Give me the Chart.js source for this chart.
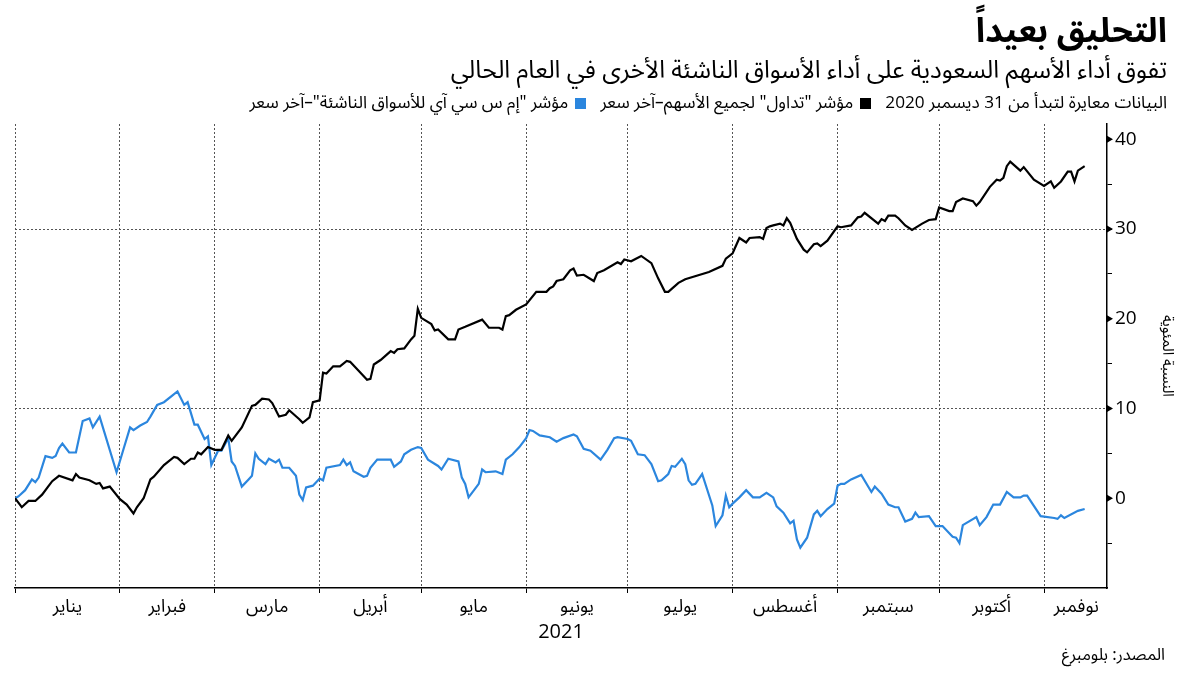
<!DOCTYPE html>
<html lang="ar">
<head>
<meta charset="utf-8">
<script src="https://cdn.jsdelivr.net/npm/chart.js@4"></script>
<style>
  html, body { margin: 0; padding: 0; background: #fff; }
  #wrap { position: relative; width: 1200px; height: 675px; overflow: hidden;
          font-family: "Noto Sans Arabic", "DejaVu Sans", sans-serif; color: #000; }
  #chart { position: absolute; left: 0; top: 0; }
  .txt { position: absolute; right: 33px; direction: rtl; white-space: nowrap; }
  #title { top: 10px; line-height: 42px; font-size: 34px; font-weight: bold; }
  #subtitle { top: 55px; line-height: 30px; font-size: 24.5px; }
  #legend { top: 91px; line-height: 22px; font-size: 17.2px; }
  #legend .sq { display: inline-block; width: 11px; height: 11px; margin: 0 14px 0 7px; vertical-align: -1px; }
  #source { top: 643px; line-height: 24px; font-size: 16.5px; right: 35px; }
  .num { font-family: "Open Sans", "DejaVu Sans", sans-serif; }
</style>
</head>
<body>
<div id="wrap">
  <canvas id="chart" width="1200" height="675"></canvas>
  <div class="txt" id="title">التحليق بعيداً</div>
  <div class="txt" id="subtitle">تفوق أداء الأسهم السعودية على أداء الأسواق الناشئة الأخرى في العام الحالي</div>
  <div class="txt" id="legend"></div>
  <div class="txt" id="source">المصدر: بلومبرغ</div>
</div>
<script>
// days counted from 1 Jan 2021, values in % (rebased to 31 Dec 2020)
const saDays = [0,2,4,6,8,10,11,13,17,18,19,22,24,25,26,28,31,33,35,36,38,40,41,44,47,48,50,52,53,54,55,57,59,61,63,64,67,70,71,73,75,76,78,80,81,84,85,87,88,90,91,92,94,96,98,99,102,104,105,106,108,111,112,113,115,117,118,119,120,123,124,125,128,130,131,133,138,140,143,144,145,146,148,151,154,157,158,159,160,162,164,165,166,168,171,172,174,178,179,180,182,185,188,190,192,193,196,198,205,209,210,212,214,216,217,220,221,222,223,224,226,227,228,229,231,233,234,236,237,238,240,243,244,247,249,250,251,255,256,257,258,260,261,263,265,268,270,272,273,276,277,278,280,283,284,285,288,290,291,292,293,294,297,298,301,304,306,307,309,311,312,313,314,316];
const saValues = [0,-1.0,-0.3,-0.3,0.4,1.4,1.9,2.5,2.0,2.7,2.3,2.0,1.6,1.7,1.1,1.3,-0.1,-0.7,-1.7,-1.0,0.0,2.1,2.4,3.7,4.6,4.5,3.8,4.4,4.4,5.1,4.9,5.7,5.4,5.4,7.0,6.4,7.9,10.3,10.4,11.1,11.0,10.6,9.1,9.3,9.8,8.8,8.4,9.0,10.7,10.9,14.0,13.9,14.7,14.7,15.3,15.2,14.0,13.2,13.3,14.9,15.4,16.4,16.2,16.6,16.7,17.7,18.1,21.1,20.1,19.4,18.7,18.8,17.7,17.7,18.8,19.1,19.9,19.0,19.0,18.8,20.3,20.4,21.0,21.6,23.0,23.0,23.4,23.6,24.2,24.4,25.4,25.6,24.8,24.9,24.2,25.1,25.4,26.3,26.1,26.6,26.4,27.0,26.2,24.5,23.0,23.0,24.0,24.4,25.2,25.9,26.7,27.3,29.0,28.5,29.0,29.1,28.9,30.1,30.3,30.4,30.6,30.4,31.2,30.7,28.9,27.7,27.4,28.3,28.4,28.1,28.7,30.3,30.2,30.4,31.3,31.4,31.8,30.6,31.1,30.9,31.5,31.5,31.2,30.4,29.9,30.6,31.0,31.1,32.4,32.0,32.0,33.0,33.4,33.1,32.6,33.0,34.7,35.5,35.4,35.7,37.0,37.5,36.5,36.9,35.5,34.8,35.3,34.6,35.3,36.4,36.4,35.3,36.5,37.0];

const emDays = [0,1,3,5,6,7,9,11,12,13,14,16,18,20,22,23,25,30,32,34,35,37,39,40,42,44,48,50,51,53,54,56,57,58,60,61,63,64,65,67,69,70,71,72,74,75,77,78,79,81,83,84,85,86,88,90,91,92,96,97,98,99,100,103,104,105,107,111,112,114,115,117,119,120,122,125,126,128,131,132,133,134,136,137,138,139,142,144,145,147,149,151,152,153,155,158,160,162,165,166,168,170,173,175,177,178,181,182,184,186,188,190,191,193,194,195,197,198,199,200,201,203,206,207,209,210,211,212,214,216,218,220,222,224,225,227,229,230,231,232,234,236,237,238,240,242,243,244,245,247,250,253,254,256,258,260,261,263,265,266,267,270,272,274,277,278,279,280,284,285,287,289,291,293,295,297,298,299,303,307,308,309,310,314,316];
const emValues = [0,0.2,0.9,2.1,1.8,2.3,4.7,4.5,4.7,5.6,6.1,5.1,5.1,8.6,8.9,7.9,9.1,2.9,5.4,7.9,7.6,8.1,8.5,9.1,10.4,10.7,11.9,10.4,10.7,8.2,8.2,6.6,6.9,3.7,5.3,5.3,6.7,4.1,3.6,1.3,2.1,2.5,5.0,4.4,3.8,4.4,4.0,4.3,3.4,3.4,2.5,0.4,-0.2,1.2,1.4,2.2,2.0,3.4,3.7,4.3,3.7,4.0,3.0,2.4,2.5,3.4,4.3,4.3,3.5,4.1,4.9,5.4,5.7,5.6,4.3,3.6,3.2,4.4,4.1,2.3,1.6,0.1,1.1,1.6,3.2,2.9,3.0,2.7,4.3,4.9,5.7,6.7,7.6,7.5,7.0,6.8,6.3,6.7,7.1,6.9,5.5,5.3,4.3,5.4,6.7,6.8,6.6,6.4,4.9,4.8,3.8,1.9,2.0,2.7,3.6,3.5,4.4,3.8,2.0,1.5,1.6,2.7,-0.8,-3.1,-1.9,0.3,-1.0,-0.6,0.1,0.9,0.1,0.1,0.6,0.1,-0.9,-1.6,-2.8,-2.5,-4.6,-5.5,-4.4,-1.8,-1.4,-2.0,-1.2,-0.6,1.4,1.6,1.6,2.1,2.6,0.7,1.3,0.5,-0.7,-1.0,-1.0,-2.6,-2.3,-1.6,-2.1,-2.0,-3.1,-3.1,-4.3,-4.4,-5.0,-3.0,-2.1,-3.0,-2.1,-0.7,-0.7,0.7,0.1,0.1,0.3,0.3,-2.0,-2.2,-2.3,-1.9,-2.2,-1.4,-1.2];

const monthStarts = [0,31,59,90,120,151,181,212,243,273,304];
const monthNames = ['يناير','فبراير','مارس','أبريل','مايو','يونيو','يوليو','أغسطس','سبتمبر','أكتوبر','نوفمبر'];
const monthLabelDays = [15.5,45,74.5,105,135.5,166,196.5,227.5,258,288.5,313.5];
const yTicks = [0,10,20,30,40];

const seriesNames = ['مؤشر "تداول" لجميع الأسهم–آخر سعر', 'مؤشر "إم س سي آي للأسواق الناشئة"–آخر سعر'];
const seriesColors = ['#000000', '#2b86de'];

const arFont = '"Noto Sans Arabic", "DejaVu Sans", sans-serif';
const numFont = '"Open Sans", "DejaVu Sans", sans-serif';

// legend
const legend = document.getElementById('legend');
let html = 'البيانات معايرة لتبدأ من <span class="num">31</span> ديسمبر <span class="num">2020</span>';
seriesNames.forEach((name, i) => {
    html += '<span class="sq" style="background:' + seriesColors[i] + '"></span>' + name;
});
legend.innerHTML = html;

const isMonthStart = (v) => monthStarts.indexOf(v) !== -1;

const tickMarkers = {
    id: 'tickMarkers',
    afterDraw(chart) {
        const s = chart.scales.y;
        const ctx = chart.ctx;
        ctx.save();
        ctx.fillStyle = '#000';
        for (const v of yTicks) {
            const py = s.getPixelForValue(v);
            ctx.beginPath();
            ctx.moveTo(s.left, py - 3.5);
            ctx.lineTo(s.left + 6, py);
            ctx.lineTo(s.left, py + 3.5);
            ctx.closePath();
            ctx.fill();
        }
        ctx.restore();
    }
};

new Chart(document.getElementById('chart'), {
    type: 'line',
    data: {
        datasets: [
            {
                label: seriesNames[0],
                data: saDays.map((d, i) => ({x: d, y: saValues[i]})),
                borderColor: seriesColors[0],
                borderWidth: 2.2,
                pointRadius: 0,
                tension: 0
            },
            {
                label: seriesNames[1],
                data: emDays.map((d, i) => ({x: d, y: emValues[i]})),
                borderColor: seriesColors[1],
                borderWidth: 2.2,
                pointRadius: 0,
                tension: 0
            }
        ]
    },
    options: {
        responsive: false,
        animation: false,
        devicePixelRatio: 1,
        layout: { padding: { left: 15, top: 124, right: 0, bottom: 31 } },
        plugins: { legend: { display: false }, tooltip: { enabled: false } },
        scales: {
            x: {
                type: 'linear',
                min: 0,
                max: 322.6,
                afterBuildTicks(scale) {
                    const t = monthStarts.concat(monthLabelDays).sort((a, b) => a - b);
                    scale.ticks = t.map(v => ({value: v}));
                },
                afterFit(scale) { scale.height = 56; },
                ticks: {
                    autoSkip: false,
                    maxRotation: 0,
                    padding: 5,
                    color: '#000',
                    font: { family: arFont, size: 18 },
                    callback(value) {
                        const i = monthLabelDays.indexOf(value);
                        return i === -1 ? '' : monthNames[i];
                    }
                },
                grid: {
                    color: (c) => (c.tick && isMonthStart(c.tick.value)) ? '#555' : 'rgba(0,0,0,0)',
                    tickColor: (c) => (c.tick && isMonthStart(c.tick.value)) ? '#000' : 'rgba(0,0,0,0)',
                    tickLength: 5,
                    lineWidth: 1
                },
                border: { display: true, color: '#000', width: 1.5, dash: [2, 2] },
                title: {
                    display: true,
                    text: '2021',
                    color: '#000',
                    font: { family: numFont, size: 20 },
                    padding: 0
                }
            },
            y: {
                position: 'right',
                min: -10,
                max: 41.7,
                afterFit(scale) { scale.width = 93; },
                ticks: {
                    stepSize: 5,
                    includeBounds: false,
                    padding: 3,
                    color: '#000',
                    font: { family: numFont, size: 19 },
                    callback(value) {
                        return (value % 10 === 0 && value >= 0) ? String(value) : '';
                    }
                },
                grid: {
                    color: (c) => (c.tick && (c.tick.value === 10 || c.tick.value === 30)) ? '#555' : 'rgba(0,0,0,0)',
                    tickColor: (c) => (c.tick && c.tick.value > -10) ? '#000' : 'rgba(0,0,0,0)',
                    tickLength: 5,
                    lineWidth: 1
                },
                border: { display: true, color: '#000', width: 1.5, dash: [2, 2] },
                title: {
                    display: true,
                    text: 'النسبة المئوية',
                    color: '#000',
                    font: { family: arFont, size: 15 },
                    padding: { top: 26 }
                }
            }
        }
    },
    plugins: [tickMarkers]
});
</script>
</body>
</html>
